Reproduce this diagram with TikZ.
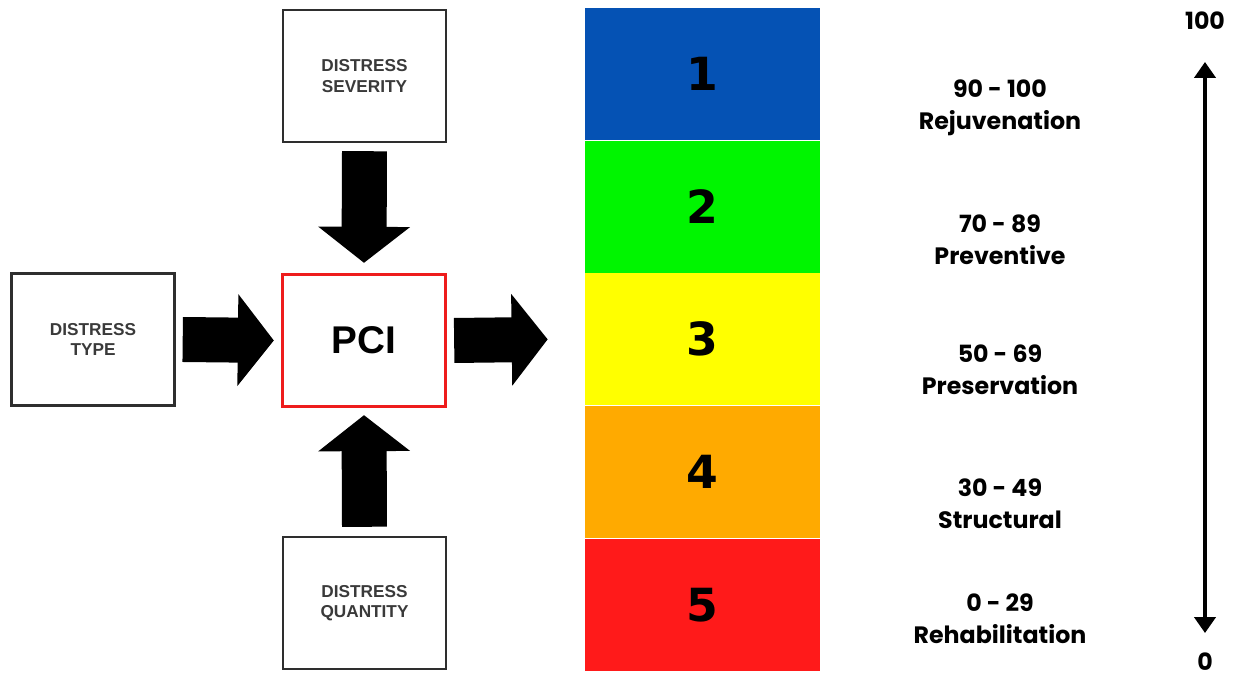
\documentclass[tikz,border=0pt]{standalone}
\usepackage{fontspec}
\setmainfont{Liberation Sans}
\newfontfamily\labelfont{Poppins}
\newfontfamily\bandfont{DejaVu Sans}
\usetikzlibrary{positioning}
\usetikzlibrary{arrows.meta}
\definecolor{BAND_BLUE}{HTML}{0552B4}
\definecolor{BAND_GREEN}{HTML}{00F500}
\definecolor{BAND_YELLOW}{HTML}{FFFF00}
\definecolor{BAND_ORANGE}{HTML}{FFAA00}
\definecolor{BAND_RED}{HTML}{FF1A1A}
\definecolor{BOX_GRAY}{HTML}{2E2E2E}
\definecolor{TEXT_GRAY}{HTML}{3A3A3A}
\definecolor{PCI_RED}{HTML}{EE1C1C}
\tikzset{
	inbox/.style = {draw=BOX_GRAY, line width=1.4pt, fill=white, minimum width=3.26cm, minimum height=2.64cm, inner sep=0pt, align=center, text=TEXT_GRAY, font=\fontsize{9.8}{11.5}\selectfont\bfseries},
	band/.style = {minimum width=4.7cm, minimum height=2.64cm, inner sep=0pt, font=\bandfont\fontsize{26}{26}\selectfont\bfseries},
	rangelbl/.style = {align=center, inner sep=1pt, font=\labelfont\fontsize{13.5}{18}\selectfont\bfseries},
	bigarrow/.style = {line width=0.9cm, -{Triangle[length=0.72cm 0 0, width=1.8cm 0 0]}}
}

\begin{document}
\begin{tikzpicture}[x=0.02cm, y=-0.02cm]
		\useasboundingbox (0,0) rectangle (1235,678);
		% inputs and index
		\node[inbox] (sev) at (364.5,76) {DISTRESS\\SEVERITY};
		\node[inbox] (type) at (93,339.5) {DISTRESS\\TYPE};
		\node[inbox] (qty) at (364.5,603) {DISTRESS\\QUANTITY};
		\node[inbox, draw=PCI_RED, line width=1.9pt, text=black, font=\fontsize{22}{22}\selectfont\bfseries] (pci) at (364,340.5) {PCI};
		% condition bands
		\node[band, fill=BAND_BLUE] (b1) at (702.5,74) {1};
		\node[band, fill=BAND_GREEN, below=0pt of b1] (b2) {2};
		\node[band, fill=BAND_YELLOW, below=0pt of b2] (b3) {3};
		\node[band, fill=BAND_ORANGE, below=0pt of b3] (b4) {4};
		\node[band, fill=BAND_RED, below=0pt of b4] (b5) {5};
		% treatments
		\node[rangelbl] (r1) at (1000,108) {90 - 100\\Rejuvenation};
		\node[rangelbl] (r2) at (1000,240) {70 - 89\\Preventive};
		\node[rangelbl] (r3) at (1000,370) {50 - 69\\Preservation};
		\node[rangelbl] (r4) at (1000,504) {30 - 49\\Structural};
		\node[rangelbl] (r5) at (1000,619) {0 - 29\\Rehabilitation};
		% scale
		\node[rangelbl] (top) at (1205,21) {100};
		\node[rangelbl] (bot) at (1205,662) {0};
		\draw[line width=2.3pt, {Triangle[length=0.32cm 0 0, width=0.42cm 0 0]}-{Triangle[length=0.32cm 0 0, width=0.42cm 0 0]}]
		      ([yshift=-0.6cm]top.south) -- ([yshift=0.36cm]bot.north);
		% arrows
		\draw[bigarrow] ([yshift=-0.16cm]sev.south) -- ([yshift=0.2cm]pci.north);
		\draw[bigarrow] ([yshift=0.18cm]qty.north) -- ([yshift=-0.14cm]pci.south);
		\draw[bigarrow] ([xshift=0.14cm]type.east) -- ([xshift=-0.14cm]pci.west);
		\draw[bigarrow] ([xshift=0.14cm]pci.east) -- ([xshift=-0.74cm]b3.west);
	\end{tikzpicture}
\end{document}
